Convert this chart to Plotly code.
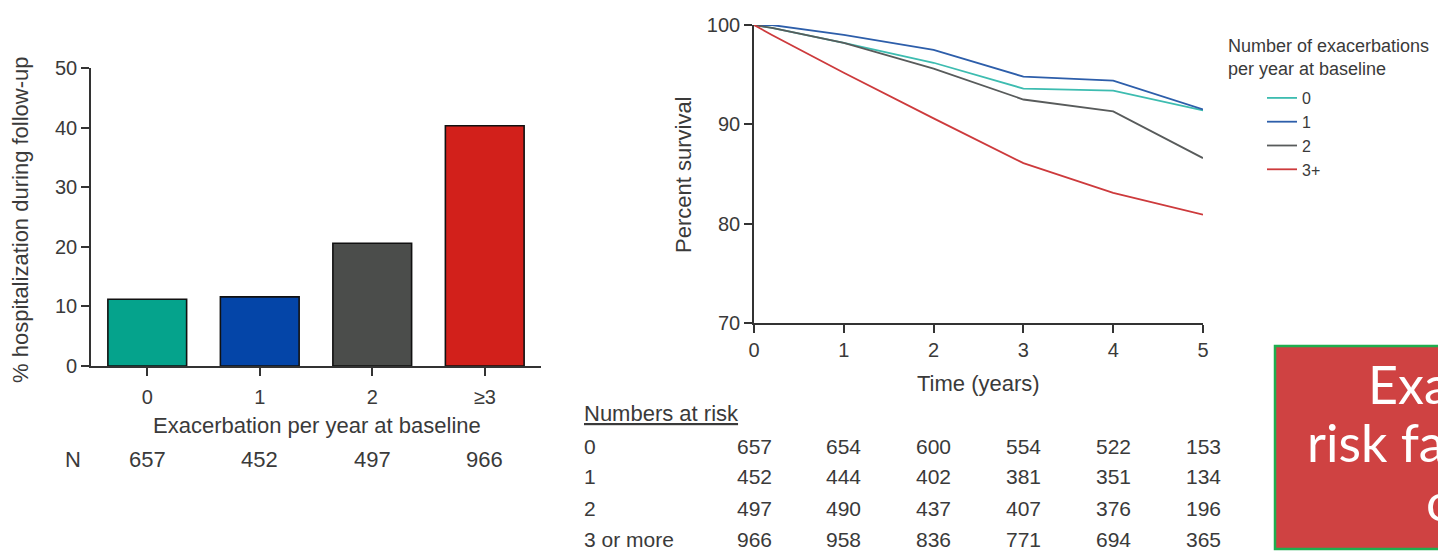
import plotly.graph_objects as go

# The page body has an 8px margin, so the figure is sized to the visible area
W, H = 1438, 546
OFF = 8

# ---------------- data ----------------
bar_categories = ["0", "1", "2", "≥3"]
bar_values = [11.2, 11.6, 20.6, 40.3]
bar_n = [657, 452, 497, 966]
bar_colors = ["#05a38c", "#0445a8", "#4b4d4b", "#d2201b"]

time_points = [0, 0.2, 1, 2, 3, 4, 5]
surv_0 = [100, 99.7, 98.2, 96.2, 93.6, 93.4, 91.4]
surv_1 = [100, 100, 99.0, 97.5, 94.8, 94.4, 91.5]
surv_2 = [100, 99.7, 98.2, 95.6, 92.5, 91.3, 86.6]
surv_3 = [100, 99.0, 95.2, 90.6, 86.1, 83.1, 80.9]
series_names = ["0", "1", "2", "3+"]
line_colors = ["#3dbcb0", "#2d5eaa", "#585b5b", "#cd3a3c"]

risk_times = [0, 1, 2, 3, 4, 5]
risk_labels = ["0", "1", "2", "3 or more"]
risk_0 = [657, 654, 600, 554, 522, 153]
risk_1 = [452, 444, 402, 381, 351, 134]
risk_2 = [497, 490, 437, 407, 376, 196]
risk_3 = [966, 958, 836, 771, 694, 365]

FONT = "Liberation Sans, Arial, sans-serif"
TXT = "#3a3a3a"
AX = "#333333"


def px(x):
    return (x - OFF) / W


def py(y):
    return 1 - (y - OFF) / H


fig = go.Figure()

# bar chart
fig.add_trace(go.Bar(
    x=bar_categories, y=bar_values,
    marker=dict(color=bar_colors, line=dict(color="#111111", width=1.6)),
    xaxis="x", yaxis="y", showlegend=False, width=0.7,
))

# survival lines
for name, vals, col in zip(series_names, [surv_0, surv_1, surv_2, surv_3], line_colors):
    fig.add_trace(go.Scatter(
        x=time_points, y=vals, mode="lines", name=name,
        line=dict(color=col, width=1.8),
        xaxis="x2", yaxis="y2", legendgroup=name,
    ))

axis_common = dict(
    showline=True, linecolor=AX, linewidth=1.6, ticks="outside", ticklen=8,
    tickwidth=1.5, tickcolor=AX, showgrid=False, zeroline=False, automargin=False,
    tickfont=dict(family=FONT, size=20, color=TXT),
)

fig.update_layout(
    template="none",
    width=W, height=H, autosize=False,
    margin=dict(l=0, r=0, t=0, b=0, pad=0, autoexpand=False),
    paper_bgcolor="white", plot_bgcolor="white",
    font=dict(family=FONT, color=TXT),
    xaxis=dict(domain=[px(91), px(541)], range=[-0.5, 3.5], anchor="y",
               type="category", ticklabelstandoff=4, **axis_common),
    yaxis=dict(domain=[py(366), py(68)], range=[0, 50], anchor="x",
               tickvals=[0, 10, 20, 30, 40, 50], **axis_common),
    xaxis2=dict(domain=[px(754), px(1203)], range=[0, 5], anchor="y2",
                tickvals=[0, 1, 2, 3, 4, 5], **axis_common),
    yaxis2=dict(domain=[py(323), py(25)], range=[70, 100], anchor="x2",
                tickvals=[70, 80, 90, 100], **axis_common),
    legend=dict(x=px(1262), y=py(81), xanchor="left", yanchor="top",
                font=dict(family=FONT, size=16, color=TXT),
                bgcolor="rgba(0,0,0,0)", tracegroupgap=0, itemwidth=30),
    bargap=0.3,
)

ann = []


def add_text(text, x, y, size=22, xref="paper", xanchor="center", **kw):
    ann.append(dict(text=text, x=x, y=y, xref=xref, yref="paper", showarrow=False,
                    xanchor=xanchor, yanchor=kw.pop("yanchor", "middle"),
                    font=kw.pop("font", dict(size=size, family=FONT, color=TXT)), **kw))


# bar chart titles and N row
add_text("% hospitalization during follow-up", px(21), py(220), textangle=-90)
add_text("Exacerbation per year at baseline", px(317), py(426))
add_text("N", px(73), py(459))
for cat, n in zip(bar_categories, bar_n):
    add_text(str(n), cat, py(459), xref="x")

# survival chart titles and legend title
add_text("Percent survival", px(683), py(175), textangle=-90)
add_text("Time (years)", px(978), py(383))
add_text("Number of exacerbations<br>per year at baseline", px(1226), py(34), size=18,
         xanchor="left", yanchor="top", align="left")

# numbers at risk table
add_text("<u>Numbers at risk</u>", px(582), py(413), xanchor="left")
row_y = [446, 477, 508, 539]
for lab, vals, yy in zip(risk_labels, [risk_0, risk_1, risk_2, risk_3], row_y):
    add_text(lab, px(582), py(yy), size=21, xanchor="left")
    for t, v in zip(risk_times, vals):
        add_text(str(v), t, py(yy), size=21, xref="x2")

# red slide box text
box_font = dict(size=52, family="Lato, Open Sans, sans-serif", color="white")
add_text("Exacerbations", px(1366), py(384), xanchor="left", font=box_font)
add_text("risk factor for", px(1305), py(442), xanchor="left", font=box_font)
add_text("of COPD", px(1424), py(501), xanchor="left", font=box_font)

fig.update_layout(annotations=ann)

fig.update_layout(shapes=[dict(
    type="rect", xref="paper", yref="paper",
    x0=px(1275), x1=px(1530), y0=py(549), y1=py(346),
    fillcolor="#cf4242", line=dict(color="#1fae4f", width=2.5), layer="below",
)])

fig.write_html("out.html")
